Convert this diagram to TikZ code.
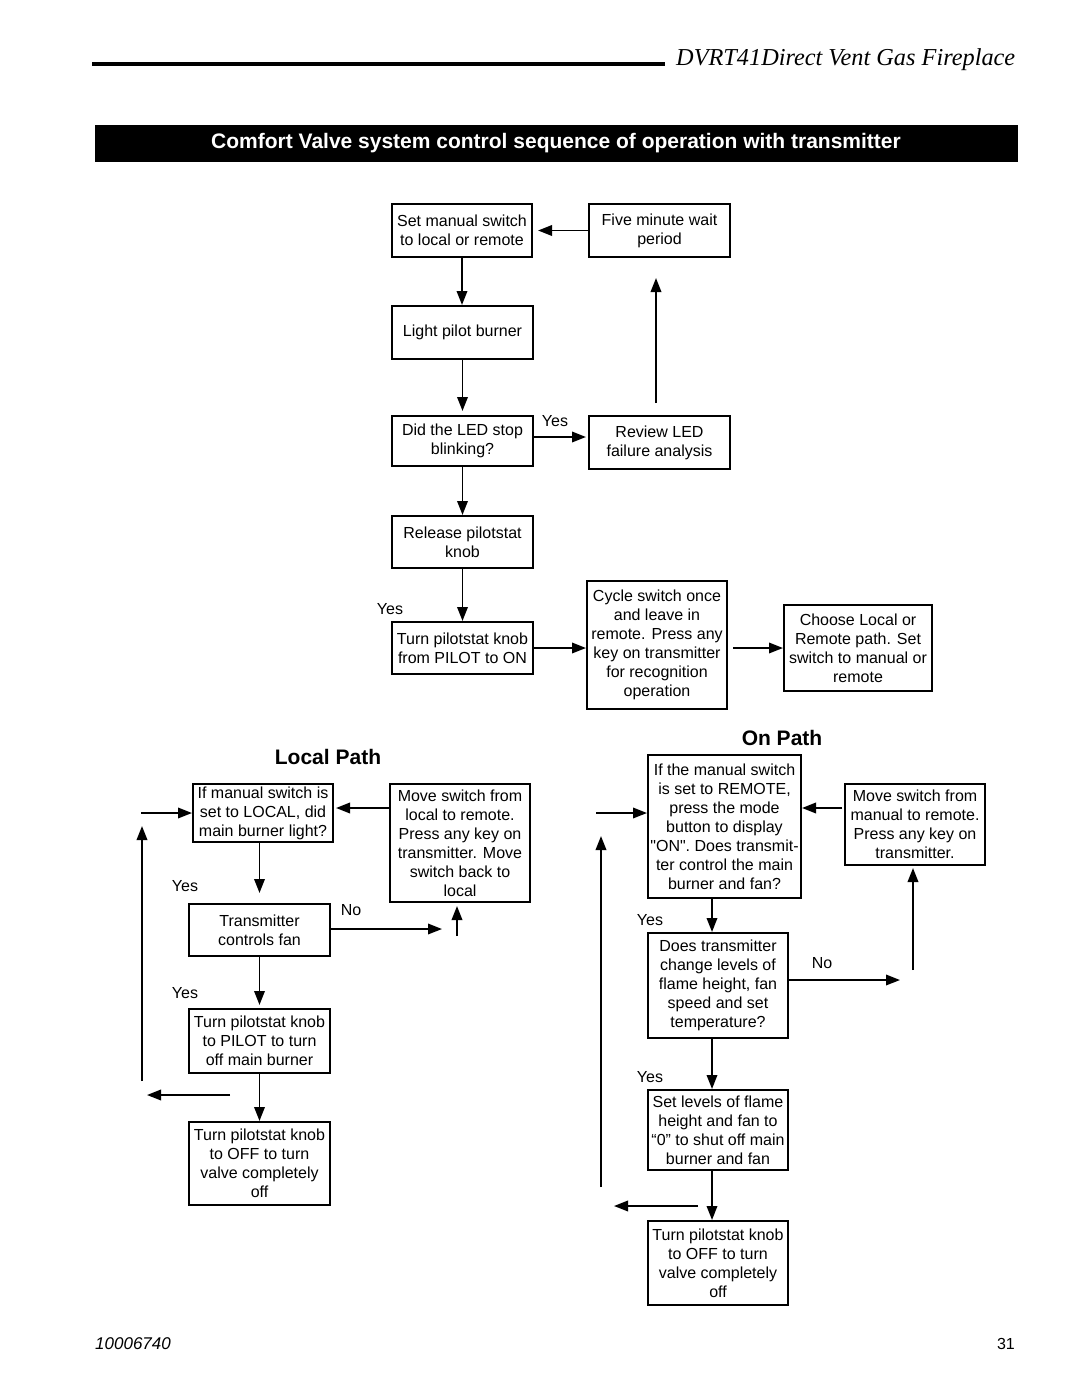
\documentclass[tikz,border=0pt]{standalone}
\usepackage{fontspec}
\setmainfont{Liberation Sans}
\newfontfamily\headfont{Liberation Serif}
\usetikzlibrary{arrows.meta, calc, positioning}

\tikzset{
	flowbox/.style={draw, line width=2pt, align=center, inner sep=0pt, font=\fontsize{16}{19}\selectfont},
	flowarrow/.style={line width=1.9pt, -{Triangle[length=14pt, width=10.5pt]}},
	flowlabel/.style={font=\fontsize{16}{19}\selectfont},
	pathtitle/.style={font=\fontsize{21}{24}\selectfont\bfseries}
}

\begin{document}
\begin{tikzpicture}[x=1pt, y=-1pt]
			\useasboundingbox (0,0) rectangle (1080,1397);
			
			% header
			\draw[line width=4pt] (92,64) -- (665,64);
			\node[anchor=base west, inner sep=0pt, font=\headfont\itshape\fontsize{24.3}{26}\selectfont] (head) at (676,66) {DVRT41Direct Vent Gas Fireplace};
			
			\fill[black] (95,125) rectangle (1018,162);
			\node[text=white, font=\fontsize{21}{24}\selectfont\bfseries] (title) at (556,143.5) {Comfort Valve system control sequence of operation with transmitter};
			
			% start sequence
			\node[flowbox, minimum width=140pt, minimum height=53pt] (b1) at (462,230.5) {Set manual switch\\to local or remote};
			\node[flowbox, minimum width=141pt, minimum height=53pt] (b2) at (659.5,230.5) {Five minute wait\\period};
			\node[flowbox, minimum width=141pt, minimum height=53pt] (b3) at (462.5,332.5) {Light pilot burner};
			\node[flowbox, minimum width=141pt, minimum height=50pt] (b4) at (462.5,441) {Did the LED stop\\blinking?};
			\node[flowbox, minimum width=141pt, minimum height=53pt] (b5) at (659.5,442.5) {Review LED\\failure analysis};
			\node[flowbox, minimum width=141pt, minimum height=52pt] (b6) at (462.5,542) {Release pilotstat\\knob};
			\node[flowbox, minimum width=141pt, minimum height=52pt] (b7) at (462.5,648) {Turn pilotstat knob\\from PILOT to ON};
			\node[flowbox, minimum width=140pt, minimum height=128pt] (b8) at (657,645) {Cycle switch once\\and leave in\\remote. Press any\\key on transmitter\\for recognition\\operation};
			\node[flowbox, minimum width=148pt, minimum height=86pt] (b9) at (858,648) {Choose Local or\\Remote path. Set\\switch to manual or\\remote};
			
			\coordinate (u1) at (656,403);
			\coordinate (u2) at (656,278);
			
			\draw[flowarrow, shorten >=5pt] (b2.west) -- (b1.east);
			\draw[flowarrow] (b1.south) -- (b1.south |- b3.north);
			\draw[flowarrow, shorten >=4pt] (b3.south) -- (b4.north);
			\draw[flowarrow, shorten >=2pt] ([yshift=4pt]b4.east) -- ([yshift=4pt]b4.east -| b5.west);
			\draw[flowarrow] (u1) -- (u2);
			\draw[flowarrow] (b4.south) -- (b6.north);
			\draw[flowarrow] (b6.south) -- (b7.north);
			\draw[flowarrow] (b7.east) -- (b7.east -| b8.west);
			\draw[flowarrow, shorten <=5pt] (b8.east |- b9.west) -- (b9.west);
			
			\node[flowlabel] (yes1) at (555,421) {Yes};
			\node[flowlabel] (yes2) at (390,609) {Yes};
			
			% local path
			\node[pathtitle] (local) at (328,757) {Local Path};
			
			\node[flowbox, minimum width=140pt, minimum height=58pt] (l1) at (263,813) {If manual switch is\\set to LOCAL, did\\main burner light?};
			\node[flowbox, minimum width=140pt, minimum height=118pt] (l2) at (460,843) {Move switch from\\local to remote.\\Press any key on\\transmitter. Move\\switch back to\\local};
			\node[flowbox, minimum width=141pt, minimum height=52pt] (l3) at (259.5,930) {Transmitter\\controls fan};
			\node[flowbox, minimum width=141pt, minimum height=64pt] (l4) at (259.5,1041) {Turn pilotstat knob\\to PILOT to turn\\off main burner};
			\node[flowbox, minimum width=141pt, minimum height=83pt] (l5) at (259.5,1163.5) {Turn pilotstat knob\\to OFF to turn\\valve completely\\off};
			
			\coordinate (la) at (388,808);
			\coordinate (lin) at (141,813);
			\coordinate (lb) at (142,1081);
			\coordinate (lt) at (142,826);
			\coordinate (lno) at (442,929);
			\coordinate (lup) at (457,936);
			\coordinate (lls) at (230,1095);
			\coordinate (lle) at (147,1095);
			
			\draw[flowarrow, shorten >=2pt] (l2.west |- la) -- (l1.east |- la);
			\draw[flowarrow] (lin) -- (l1.west);
			\draw[flowarrow] (lb) -- (lt);
			\draw[flowarrow, shorten >=10pt] (l1.south -| l3.north) -- (l3.north);
			\draw[flowarrow] (l3.east |- lno) -- (lno);
			\draw[flowarrow, shorten >=3pt] (lup) -- (l2.south -| lup);
			\draw[flowarrow, shorten >=3pt] (l3.south) -- (l4.north);
			\draw[flowarrow] (lls) -- (lle);
			\draw[flowarrow] (l4.south) -- (l5.north);
			
			\node[flowlabel] (yes3) at (185,886) {Yes};
			\node[flowlabel] (no1) at (351,910) {No};
			\node[flowlabel] (yes4) at (185,993) {Yes};
			
			% on path
			\node[pathtitle] (onpath) at (782,738) {On Path};
			
			\node[flowbox, minimum width=153pt, minimum height=143pt] (o1) at (724.5,826.5) {If the manual switch\\is set to REMOTE,\\press the mode\\button to display\\\textquotedbl ON\textquotedbl. Does transmit-\\ter control the main\\burner and fan?};
			\node[flowbox, minimum width=140pt, minimum height=81pt] (o2) at (915,824.5) {Move switch from\\manual to remote.\\Press any key on\\transmitter.};
			\node[flowbox, minimum width=140pt, minimum height=105pt] (o3) at (718,985.5) {Does transmitter\\change levels of\\flame height, fan\\speed and set\\temperature?};
			\node[flowbox, minimum width=140pt, minimum height=80pt] (o4) at (718,1130) {Set levels of flame\\height and fan to\\“0” to shut off main\\burner and fan};
			\node[flowbox, minimum width=140pt, minimum height=84pt] (o5) at (718,1263) {Turn pilotstat knob\\to OFF to turn\\valve completely\\off};
			
			\coordinate (oa) at (842,808);
			\coordinate (oin) at (596,813);
			\coordinate (ob) at (601,1187);
			\coordinate (ot) at (601,836);
			\coordinate (ono) at (900,980);
			\coordinate (oup) at (913,970);
			\coordinate (ols) at (698,1206);
			\coordinate (ole) at (614,1206);
			\coordinate (ox) at (712,0);
			
			\draw[flowarrow] (oa) -- (o1.east |- oa);
			\draw[flowarrow] (oin) -- (o1.west |- oin);
			\draw[flowarrow] (ob) -- (ot);
			\draw[flowarrow] (ox |- o1.south) -- (ox |- o3.north);
			\draw[flowarrow] (o3.east |- ono) -- (ono);
			\draw[flowarrow, shorten >=2pt] (oup) -- (o2.south -| oup);
			\draw[flowarrow] (ox |- o3.south) -- (ox |- o4.north);
			\draw[flowarrow] (ols) -- (ole);
			\draw[flowarrow] (ox |- o4.south) -- (ox |- o5.north);
			
			\node[flowlabel] (yes5) at (650,920) {Yes};
			\node[flowlabel] (no2) at (822,963) {No};
			\node[flowlabel] (yes6) at (650,1077) {Yes};
			
			% footer
			\node[anchor=base west, inner sep=0pt, font=\itshape\fontsize{17}{19}\selectfont] (docno) at (95,1349) {10006740};
			\node[anchor=base east, inner sep=0pt, font=\fontsize{16}{19}\selectfont] (pageno) at (1015,1349) {31};
			
		\end{tikzpicture}
\end{document}
